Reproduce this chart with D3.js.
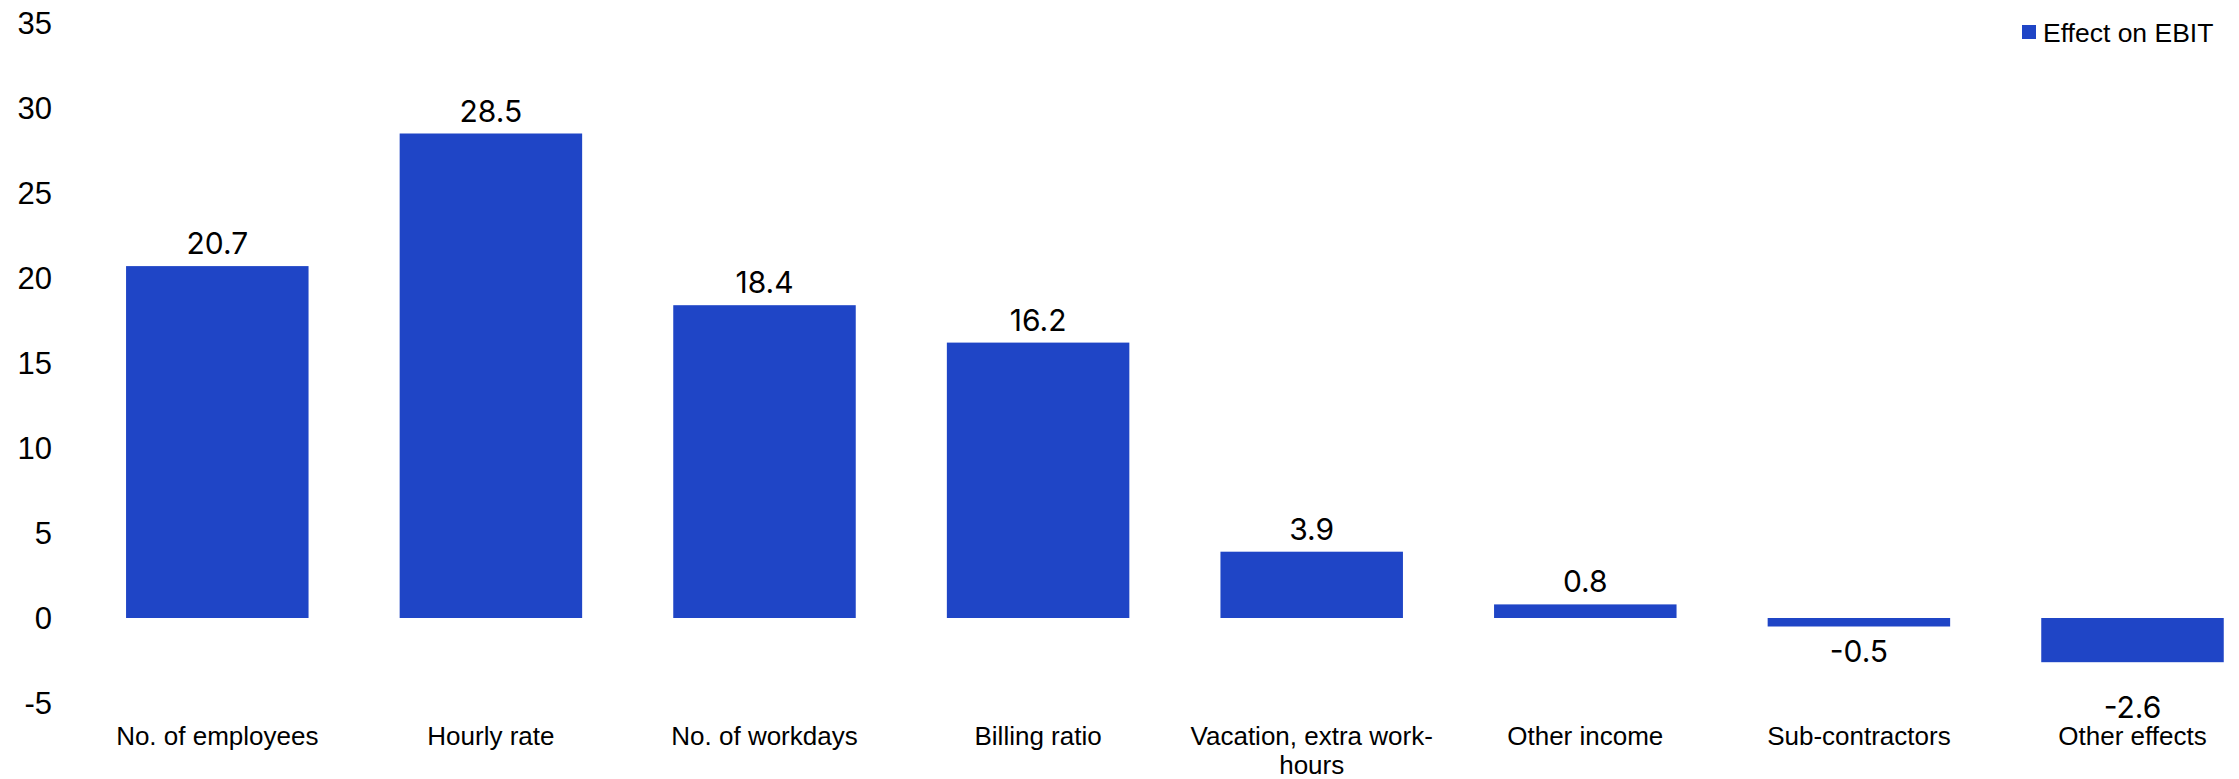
<!DOCTYPE html>
<html>
<head>
<meta charset="utf-8">
<script src="https://cdn.jsdelivr.net/npm/d3@7"></script>
<style>
  html, body { margin: 0; padding: 0; background: #ffffff; }
  svg { display: block; }
</style>
</head>
<body>
<svg id="chart" width="2239" height="779"></svg>
<script>
// ---- data ----
const categories = ["No. of employees", "Hourly rate", "No. of workdays", "Billing ratio",
  "Vacation, extra work-hours", "Other income", "Sub-contractors", "Other effects"];
const values = [20.7, 28.5, 18.4, 16.2, 3.9, 0.8, -0.5, -2.6];
const yTicks = [-5, 0, 5, 10, 15, 20, 25, 30, 35];
const seriesName = "Effect on EBIT";

// ---- layout ----
const barColor = "#1f45c6";
const sansFont = "'Liberation Sans', Arial, sans-serif";
const labelFont = "Inter, 'Liberation Sans', sans-serif";
const loc = d3.formatLocale({ decimal: ".", thousands: ",", grouping: [3], currency: ["", ""], minus: "-" });
const fmtInt = loc.format("d");
const fmt1 = loc.format(".1f");

const svg = d3.select("#chart");

const x = d3.scaleBand()
  .domain(categories)
  .range([80.5, 80.5 + 8 * 273.6])
  .paddingInner(0.333)
  .paddingOuter(0.1665);

const y = d3.scaleLinear()
  .domain([-5, 35])
  .range([703, 23]);

// y axis (labels only)
const yAxis = d3.axisLeft(y).tickValues(yTicks).tickSize(0).tickPadding(0).tickFormat(fmtInt);
const gy = svg.append("g").attr("transform", "translate(52,0)").call(yAxis);
gy.select(".domain").remove();
gy.selectAll("text")
  .attr("font-family", sansFont)
  .attr("font-size", 31)
  .attr("fill", "#000")
  .attr("dy", "0.35em");

// bars
const data = categories.map((c, i) => ({ c, v: values[i] }));
svg.append("g").selectAll("rect")
  .data(data)
  .join("rect")
  .attr("x", d => x(d.c))
  .attr("width", x.bandwidth())
  .attr("y", d => y(Math.max(0, d.v)))
  .attr("height", d => Math.abs(y(d.v) - y(0)))
  .attr("fill", barColor);

// value labels
svg.append("g").selectAll("text")
  .data(data)
  .join("text")
  .attr("x", d => x(d.c) + x.bandwidth() / 2)
  .attr("y", d => d.v >= 0
    ? y(d.v) - 12
    : y(d.v) + 31 + (y(d.v) - y(0)) * 0.55)
  .attr("text-anchor", "middle")
  .attr("font-family", labelFont)
  .attr("font-size", 30)
  .attr("fill", "#000")
  .text(d => fmt1(d.v));

// category labels (x axis, wrapped)
const xAxisG = svg.append("g");
const maxW = x.step() * 0.95;
categories.forEach(c => {
  const t = xAxisG.append("text")
    .attr("x", x(c) + x.bandwidth() / 2)
    .attr("y", 745)
    .attr("text-anchor", "middle")
    .attr("font-family", sansFont)
    .attr("font-size", 26)
    .attr("fill", "#000");
  const tokens = c.split(/(?<=-)|(?= )/);
  let lines = [];
  let cur = "";
  const probe = t.append("tspan");
  tokens.forEach(tok => {
    const test = cur + tok;
    probe.text(test);
    if (cur && probe.node().getComputedTextLength() > maxW) {
      lines.push(cur.trim());
      cur = tok.trimStart();
    } else {
      cur = test;
    }
  });
  lines.push(cur.trim());
  probe.remove();
  lines.forEach((ln, i) => {
    t.append("tspan")
      .attr("x", x(c) + x.bandwidth() / 2)
      .attr("dy", i === 0 ? 0 : 29)
      .text(ln);
  });
});

// legend
const lg = svg.append("g").attr("transform", "translate(2022,25)");
lg.append("rect").attr("width", 14).attr("height", 14).attr("fill", barColor);
lg.append("text")
  .attr("x", 21)
  .attr("y", 16.7)
  .attr("font-family", sansFont)
  .attr("font-size", 26.5)
  .attr("fill", "#000")
  .text(seriesName);
</script>
</body>
</html>
